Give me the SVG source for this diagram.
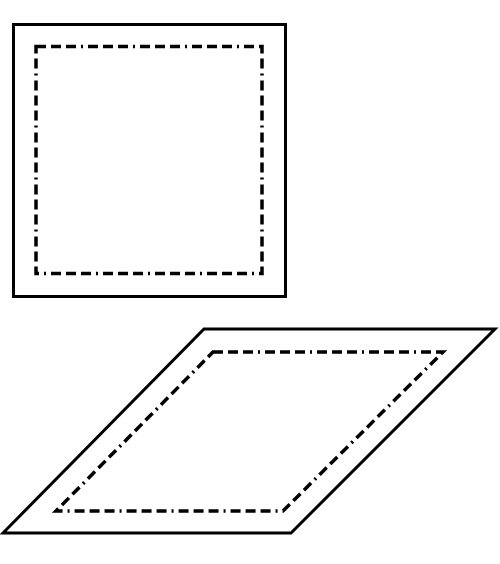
<svg xmlns="http://www.w3.org/2000/svg" width="500" height="564" viewBox="0 0 500 564">
<style>
.outer{fill:none;stroke:#000;stroke-width:3}
.inner{fill:none;stroke:#000;stroke-width:3.5;stroke-dasharray:10 5 10 5 10 5 2 5}
</style>
<rect width="500" height="564" fill="#fff"/>
<g id="square">
<rect class="outer" x="13.5" y="24.5" width="272" height="272"/>
<rect class="inner" x="36" y="46.5" width="226" height="227"/>
</g>
<g id="parallelogram">
<polygon class="outer" points="204,329 495,329 291,533 3,533"/>
<polygon class="inner" points="213,352 443,352 283,511 56,511"/>
</g>
</svg>
